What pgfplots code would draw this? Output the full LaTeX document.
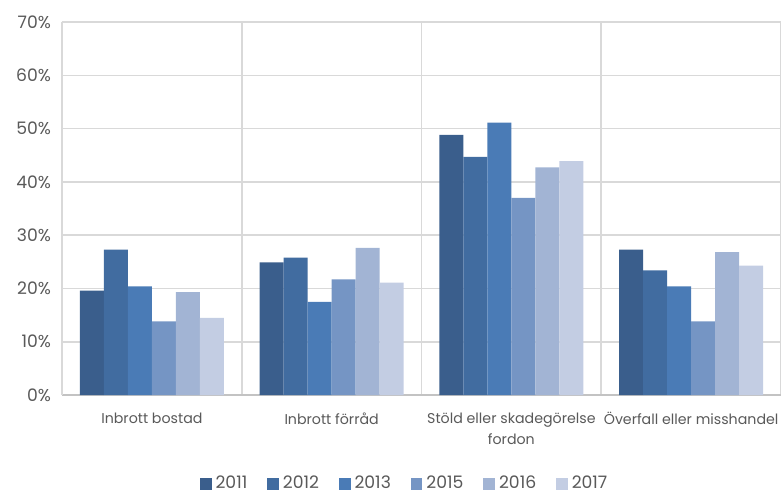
\documentclass[border=0pt]{standalone}
\usepackage{pgfplots}
\pgfplotsset{compat=1.18}
\usepackage{fontspec}
\setmainfont{Poppins}
\definecolor{c11}{HTML}{3A5E8C}
\definecolor{c12}{HTML}{416CA0}
\definecolor{c13}{HTML}{4A7BB6}
\definecolor{c15}{HTML}{7595C4}
\definecolor{c16}{HTML}{A2B4D4}
\definecolor{c17}{HTML}{C3CDE3}
\definecolor{txt}{HTML}{595959}
\definecolor{grd}{HTML}{D9D9D9}
\begin{document}
\begin{tikzpicture}
\useasboundingbox (-31pt,-50pt) rectangle (359.5pt,197.5pt);
\begin{axis}[
  scale only axis, width=359.5pt, height=186.5pt,
  at={(0,0)}, anchor=south west,
  ybar=0pt, bar width=12pt,
  xmin=-0.5, xmax=3.5, ymin=0, ymax=70,
  xtick={0,1,2,3},
  xticklabels={Inbrott bostad,Inbrott förråd,{Stöld eller skadegörelse\\fordon},Överfall eller misshandel},
  xticklabel style={align=center, font=\fontsize{7.1}{10.8}\selectfont, text=txt, yshift=-1pt},
  major x tick style={draw=none},
  minor xtick={-0.5,0.5,1.5,2.5,3.5},
  minor x tick style={draw=none},
  xminorgrids=true,
  minor x grid style={grd, line width=0.8pt},
  ytick={0,10,...,70},
  yticklabels={0\%,10\%,20\%,30\%,40\%,50\%,60\%,70\%},
  yticklabel style={font=\fontsize{8.6}{9}\selectfont, text=txt, xshift=-2pt},
  major y tick style={draw=none},
  ymajorgrids=true,
  major y grid style={grd, line width=0.8pt},
  axis line style={grd, line width=0.8pt},
  axis x line*=bottom, axis y line*=left,
  x axis line style={-, draw=grd!90!black},
  y axis line style={-},
  legend columns=6,
  legend style={at={(0.478,-0.238)}, anchor=center, draw=none, fill=none,
    inner sep=0pt, outer sep=0pt,
    font=\fontsize{8.6}{9}\selectfont, text=txt,
    /tikz/every even column/.append style={column sep=8pt}},
  legend image code/.code={\fill[#1] (0pt,-2.9pt) rectangle (5.8pt,2.9pt);},
]
\addplot[fill=c11, draw=none] coordinates {(0,19.6) (1,24.9) (2,48.8) (3,27.3)};
\addplot[fill=c12, draw=none] coordinates {(0,27.3) (1,25.8) (2,44.7) (3,23.4)};
\addplot[fill=c13, draw=none] coordinates {(0,20.4) (1,17.5) (2,51.1) (3,20.4)};
\addplot[fill=c15, draw=none] coordinates {(0,13.8) (1,21.7) (2,37.0) (3,13.8)};
\addplot[fill=c16, draw=none] coordinates {(0,19.3) (1,27.6) (2,42.7) (3,26.8)};
\addplot[fill=c17, draw=none] coordinates {(0,14.5) (1,21.1) (2,43.9) (3,24.3)};
\legend{2011,2012,2013,2015,2016,2017}
\end{axis}
\end{tikzpicture}
\end{document}
